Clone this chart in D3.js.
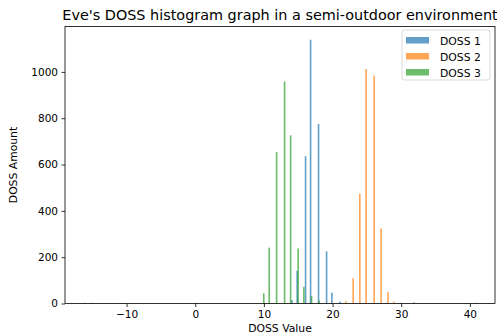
<!DOCTYPE html>
<html>
<head>
<meta charset="utf-8">
<script src="https://cdn.jsdelivr.net/npm/d3@7"></script>
<style>
  body { margin: 0; background: #fff; }
  text { font-family: "DejaVu Sans", sans-serif; fill: #000; }
</style>
</head>
<body>
<script>
// histogram bars: bar position (DOSS value) and count
const doss1Values = [14.08, 14.85, 16.07, 16.80, 17.96, 19.13, 19.90, 21.06, 31.83]
const doss1Counts = [15, 141, 636, 1139, 775, 225, 47, 8, 5]

const doss2Values = [-0.04, 21.94, 23.0, 23.97, 24.89, 26.06, 27.07, 28.08, 28.95, 29.99, 40.96]
const doss2Counts = [3, 10, 109, 474, 1013, 984, 324, 50, 8, 3, 3]

const doss3Values = [-16.06, -15.14, 9.98, 10.77, 11.85, 13.01, 13.89, 14.99, 15.82, 16.94, 18.05, 27.86]
const doss3Counts = [3, 3, 44, 241, 654, 959, 726, 238, 72, 32, 12, 3]

const seriesNames = ['DOSS 1', 'DOSS 2', 'DOSS 3']
const xTicks = [-10, 0, 10, 20, 30, 40]
const yTicks = [0, 200, 400, 600, 800, 1000]
const xDomain = [-18.97, 43.66]
const yDomain = [0, 1196]

const m = { width: 497, height: 336, left: 65, right: 495, top: 26.5, bottom: 303.5 }
const colors = ['#1f77b4', '#ff7f0e', '#2ca02c']

const svg = d3.select('body').append('svg')
    .attr('width', m.width)
    .attr('height', m.height)

const xScale = d3.scaleLinear().domain(xDomain).range([m.left, m.right])
const yScale = d3.scaleLinear().domain(yDomain).range([m.bottom, m.top])

// bars, one group per series
const series = [
    { name: seriesNames[0], values: doss1Values, counts: doss1Counts },
    { name: seriesNames[1], values: doss2Values, counts: doss2Counts },
    { name: seriesNames[2], values: doss3Values, counts: doss3Counts }
]
const barW = 1.6

series.forEach((s, i) => {
    const bars = s.values.map((v, j) => ({ v: v, c: s.counts[j] }))
    svg.append('g')
        .selectAll('rect')
        .data(bars)
        .join('rect')
        .attr('x', d => xScale(d.v) - barW / 2)
        .attr('y', d => yScale(d.c))
        .attr('width', barW)
        .attr('height', d => yScale(0) - yScale(d.c))
        .attr('fill', colors[i])
        .attr('fill-opacity', 0.7)
})

// axes
const xAxis = d3.axisBottom(xScale).tickValues(xTicks).tickSize(3.5).tickPadding(3.5).tickSizeOuter(0)
svg.append('g')
    .attr('transform', `translate(0,${m.bottom})`)
    .call(xAxis)
    .call(g => g.select('.domain').remove())

const yAxis = d3.axisLeft(yScale).tickValues(yTicks).tickFormat(d3.format('d'))
    .tickSize(3.5).tickPadding(3.5).tickSizeOuter(0)
svg.append('g')
    .attr('transform', `translate(${m.left},0)`)
    .call(yAxis)
    .call(g => g.select('.domain').remove())

svg.selectAll('.tick text')
    .attr('font-family', '"DejaVu Sans", sans-serif')
    .attr('font-size', 10.5)
    .attr('fill', '#000')
svg.selectAll('.tick line').attr('stroke', '#000').attr('stroke-width', 0.8)

// frame
svg.append('rect')
    .attr('x', m.left)
    .attr('y', m.top)
    .attr('width', m.right - m.left)
    .attr('height', m.bottom - m.top)
    .attr('fill', 'none')
    .attr('stroke', '#000')
    .attr('stroke-width', 0.8)

// title and labels
svg.append('text')
    .attr('x', (m.left + m.right) / 2)
    .attr('y', 19.5)
    .attr('text-anchor', 'middle')
    .attr('font-size', 14.4)
    .text("Eve's DOSS histogram graph in a semi-outdoor environment")

svg.append('text')
    .attr('x', (m.left + m.right) / 2)
    .attr('y', 332)
    .attr('text-anchor', 'middle')
    .attr('font-size', 10.8)
    .text('DOSS Value')

svg.append('text')
    .attr('transform', `translate(17,${(m.top + m.bottom) / 2})rotate(-90)`)
    .attr('text-anchor', 'middle')
    .attr('font-size', 10.8)
    .text('DOSS Amount')

// legend
const legend = svg.append('g').attr('transform', 'translate(402,30)')
legend.append('rect')
    .attr('width', 88)
    .attr('height', 50)
    .attr('rx', 2.5)
    .attr('fill', '#fff')
    .attr('fill-opacity', 0.8)
    .attr('stroke', '#d0d0d0')
    .attr('stroke-width', 0.8)

seriesNames.forEach((name, i) => {
    legend.append('rect')
        .attr('x', 4)
        .attr('y', 7 + i * 16)
        .attr('width', 23)
        .attr('height', 6.5)
        .attr('fill', colors[i])
        .attr('fill-opacity', 0.7)
    legend.append('text')
        .attr('x', 38)
        .attr('y', 14.5 + i * 16)
        .attr('font-size', 10.8)
        .text(name)
})
</script>
</body>
</html>
